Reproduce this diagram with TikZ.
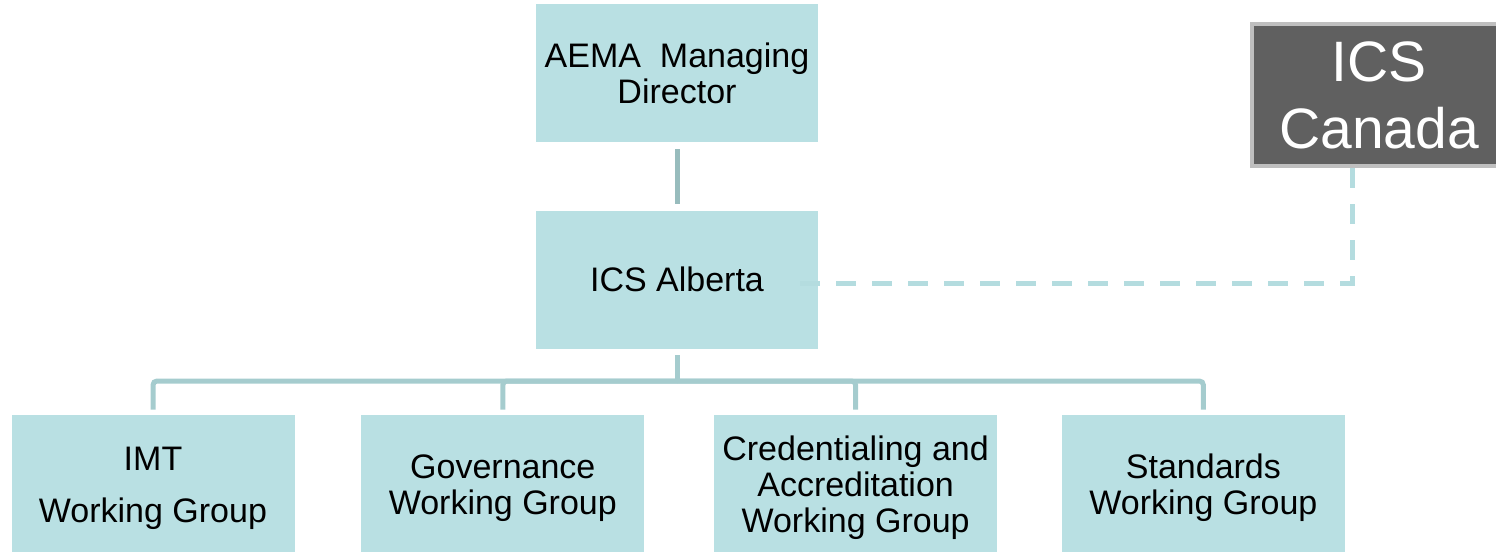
\documentclass[tikz,border=0pt]{standalone}
\usepackage{fontspec}
\setmainfont{Liberation Sans}
\usetikzlibrary{positioning}

\definecolor{boxfill}{RGB}{185,224,227}
\definecolor{stemline}{RGB}{152,188,189}
\definecolor{treeline}{RGB}{165,204,206}
\definecolor{dashline}{RGB}{180,220,223}
\definecolor{canadafill}{RGB}{96,96,96}
\definecolor{canadaborder}{RGB}{191,191,191}

\begin{document}
\begin{tikzpicture}[x=0.5pt,y=-0.5pt,
    block/.style={rectangle,fill=boxfill,inner sep=0pt,minimum width=141pt,minimum height=69pt,align=center,font=\fontsize{17}{18}\selectfont},
    group/.style={block,minimum width=141.5pt,minimum height=73pt},
    outside/.style={rectangle,fill=canadafill,draw=canadaborder,line width=2pt,inner sep=0pt,minimum width=127pt,minimum height=71pt,align=center,text=white,font=\fontsize{28.5}{33.5}\selectfont},
    connector/.style={draw=treeline,line width=2.5pt},
    dashlink/.style={draw=dashline,line width=2.5pt,dash pattern=on 10pt off 8pt}]
  \useasboundingbox (0,0) rectangle (1496,552);
  % top of the chart
  \node (director) [block] at (677,73) {AEMA\ \ Managing\\Director};
  \node (alberta) [block,below=34pt of director] {ICS Alberta};
  % working groups along the bottom row (they run off the lower edge)
  \node (imt) [group] at (153,488) {IMT\\[8pt]Working Group};
  \node (governance) [group,right=33pt of imt] {Governance\\Working Group};
  \node (credentialing) [group,right=34.5pt of governance] {Credentialing and\\Accreditation\\Working Group};
  \node (standards) [group,right=32pt of credentialing] {Standards\\Working Group};
  % national body, off to the side
  \node (canada) [outside] at (1379,95) {ICS\\Canada};

  \draw[connector,draw=stemline,shorten <=3.5pt,shorten >=3pt] (director) -- (alberta);
  \coordinate (bus) at (677,381);
  \draw[connector,shorten <=3pt] (alberta.south) -- (bus);
  \foreach \wg in {imt,governance,credentialing,standards}
    \draw[connector,rounded corners=2pt,shorten >=2.5pt] (bus) -| (\wg.north);
  \draw[dashlink,shorten >=-10.5pt] (canada.south) ++(-27,0) |- ([yshift=-2pt]alberta.east);
\end{tikzpicture}
\end{document}
